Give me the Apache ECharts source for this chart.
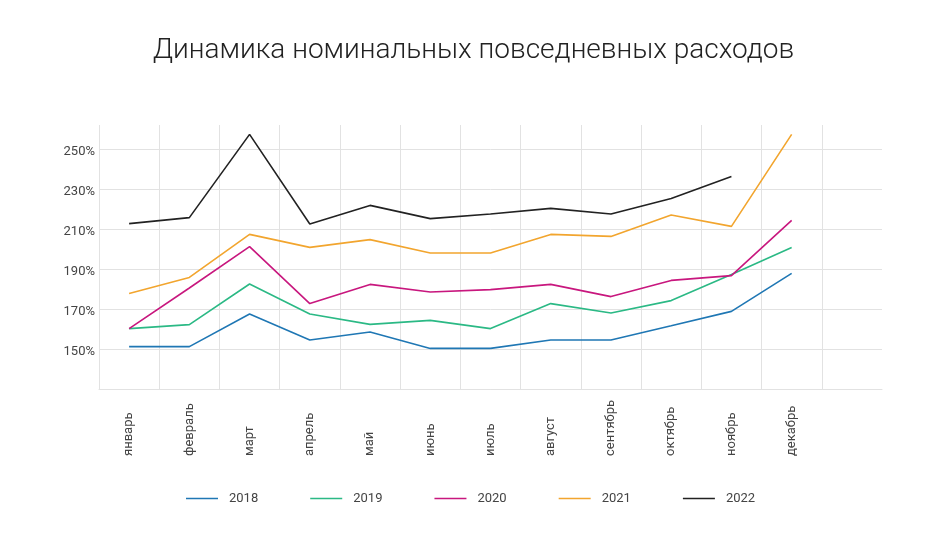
<!DOCTYPE html>
<html>
<head>
<meta charset="utf-8">
<script src="https://cdn.jsdelivr.net/npm/echarts@6/dist/echarts.min.js"></script>
<style>
  html, body { margin: 0; padding: 0; background: #fff; }
  #chart { width: 947px; height: 543px; }
</style>
</head>
<body>
<div id="chart"></div>
<script>
// months, plus one empty slot that keeps the blank area on the right
const months = ['январь', 'февраль', 'март', 'апрель', 'май', 'июнь', 'июль', 'август', 'сентябрь', 'октябрь', 'ноябрь', 'декабрь']
const years = ['2018', '2019', '2020', '2021', '2022']

// percent values
const v2018 = [151.2, 151.2, 167.5, 154.5, 158.5, 150.3, 150.3, 154.5, 154.5, 161.6, 168.8, 187.8]
const v2019 = [160.2, 162.2, 182.5, 167.5, 162.3, 164.3, 160.2, 172.7, 168.0, 174.2, 187.2, 200.7]
const v2020 = [160.2, 180.5, 201.2, 172.7, 182.3, 178.5, 179.7, 182.3, 176.2, 184.3, 186.7, 214.3]
const v2021 = [177.8, 185.8, 207.3, 200.8, 204.7, 198.0, 198.0, 207.3, 206.3, 217.0, 211.3, 257.3]
const v2022 = [212.7, 215.7, 257.3, 212.5, 221.8, 215.2, 217.5, 220.3, 217.5, 225.3, 236.2, null]

const yTicks = [150, 170, 190, 210, 230, 250]

const colors = ['#1f77b4', '#2bb985', '#c8177e', '#f2a52e', '#222222']
const seriesValues = [v2018, v2019, v2020, v2021, v2022]

const gridColor = '#e2e2e2'
const font = 'Roboto'

let myChart = echarts.init(document.getElementById('chart'), null, { renderer: 'canvas' })

let option = {
  backgroundColor: '#fff',
  textStyle: { fontFamily: font },
  title: {
    text: 'Динамика номинальных повседневных расходов',
    left: 'center',
    top: 32,
    textStyle: { fontFamily: font, fontSize: 28, fontWeight: 300, color: '#222' }
  },
  legend: {
    data: years,
    bottom: 33,
    left: 181,
    icon: 'rect',
    itemWidth: 32,
    itemHeight: 1.5,
    itemGap: 52,
    textStyle: { fontFamily: font, fontSize: 13, color: '#444', padding: [0, 0, 0, 6] }
  },
  grid: { left: 99, right: 65, top: 125, bottom: 154 },
  xAxis: {
    type: 'category',
    data: months.concat(['']),
    boundaryGap: true,
    axisLine: { show: true, lineStyle: { color: gridColor } },
    axisTick: { show: false },
    splitLine: {
      show: true,
      interval: 0,
      lineStyle: { color: Array(13).fill(gridColor).concat(['rgba(0,0,0,0)']), width: 1 }
    },
    axisLabel: {
      interval: 0,
      rotate: 90,
      align: 'left',
      verticalAlign: 'middle',
      margin: 67,
      fontFamily: font,
      fontSize: 13,
      color: '#444'
    }
  },
  yAxis: {
    type: 'value',
    min: 130,
    max: 262,
    interval: 20,
    axisLine: { show: false },
    axisTick: { show: false },
    splitLine: {
      show: true,
      lineStyle: { color: Array(7).fill(gridColor).concat(['rgba(0,0,0,0)']), width: 1 }
    },
    axisLabel: {
      showMinLabel: false,
      showMaxLabel: false,
      margin: 4,
      fontFamily: font,
      fontSize: 13,
      color: '#444',
      formatter: (v) => (yTicks.indexOf(v) >= 0 ? '{t|' + v + '%}' : ''),
      rich: {
        t: { fontFamily: font, fontSize: 13, color: '#444', padding: [5, 0, 0, 0] }
      }
    }
  },
  series: years.map((y, i) => ({
    name: y,
    type: 'line',
    data: seriesValues[i],
    color: colors[i],
    symbol: 'none',
    lineStyle: { width: 1.6, color: colors[i] },
    itemStyle: { color: colors[i] },
    connectNulls: false,
    animation: false
  })),
  animation: false
}

myChart.setOption(option)
</script>
</body>
</html>
